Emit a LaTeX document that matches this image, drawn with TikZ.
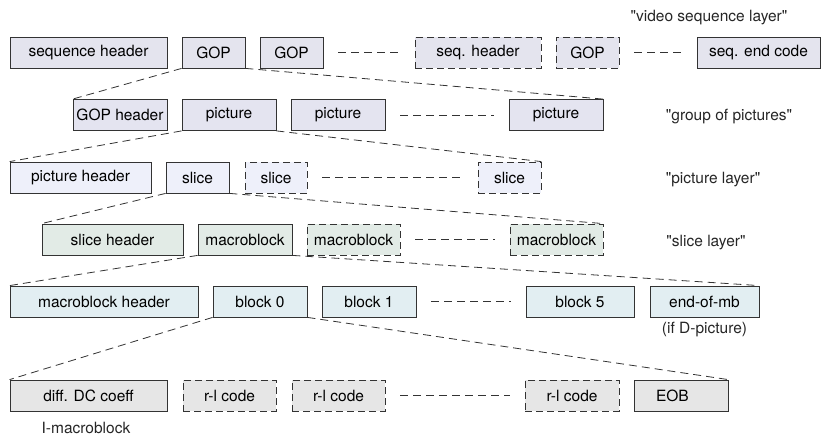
\documentclass[tikz,border=0pt]{standalone}
\usepackage{fontspec}
\setmainfont{TeX Gyre Heros}
\usepackage{tikz}
\usetikzlibrary{positioning}

\definecolor{seqfill}{HTML}{E4E4EE}
\definecolor{gopfill}{HTML}{E4E4F0}
\definecolor{picfill}{HTML}{EEF0FA}
\definecolor{slcfill}{HTML}{E2EBE6}
\definecolor{mbfill}{HTML}{E2EEF2}
\definecolor{blkfill}{HTML}{E6E6E6}
\definecolor{edge}{HTML}{333333}

\begin{document}
\begin{tikzpicture}[
      x=1pt, y=-1pt,
      font=\fontsize{15.5}{17}\selectfont,
      field/.style={
          rectangle,
          draw=edge,
          line width=0.8pt,
          align=center,
          minimum height=31pt,
          inner sep=0pt
        },
      optfield/.style={
          field,
          dash pattern=on 7pt off 4pt
        },
      layer/.style={
          align=center,
          inner sep=0pt,
          text=black!85
        },
      link/.style={
          draw=edge,
          line width=0.8pt,
          dash pattern=on 8pt off 5pt
        },
      gap/.style={
          link,
          shorten <=15pt,
          shorten >=15pt
        }
    ]
    \useasboundingbox (0,0) rectangle (821,438);

    % Video sequence layer
    \node[field, fill=seqfill, minimum width=157pt] (seqhdr) at (88.5,52.5) {sequence header};
    \node[field, fill=seqfill, minimum width=63pt] (gop_a) at (213.5,52.5) {GOP};
    \node[field, fill=seqfill, minimum width=63pt] (gop_b) at (291.5,52.5) {GOP};
    \node[optfield, fill=seqfill, minimum width=126pt] (seqhdr_b) at (478,52.5) {seq. header};
    \node[optfield, fill=seqfill, minimum width=63pt] (gop_c) at (587.5,52.5) {GOP};
    \node[field, fill=seqfill, minimum width=123pt] (seqend) at (758.5,52.5) {seq. end code};
    \node[layer] (lbl_seq) at (709,18) {\textquotedbl video sequence layer\textquotedbl};

    % Group of pictures
    \node[field, fill=gopfill, minimum width=94pt] (gophdr) at (120,115) {GOP header};
    \node[field, fill=gopfill, minimum width=94pt] (pic_a) at (229,115) {picture};
    \node[field, fill=gopfill, minimum width=94pt] (pic_b) at (338,115) {picture};
    \node[field, fill=gopfill, minimum width=94pt] (pic_c) at (556,115) {picture};
    \node[layer] (lbl_gop) at (729,117) {\textquotedbl group of pictures\textquotedbl};

    % Picture layer
    \node[field, fill=picfill, minimum width=141pt] (pichdr) at (80.5,177.5) {picture header};
    \node[field, fill=picfill, minimum width=63pt] (slice_a) at (197.5,177.5) {slice};
    \node[optfield, fill=picfill, minimum width=62pt] (slice_b) at (276,177.5) {slice};
    \node[optfield, fill=picfill, minimum width=63pt] (slice_c) at (509.5,177.5) {slice};
    \node[layer] (lbl_pic) at (713,180) {\textquotedbl picture layer\textquotedbl};

    % Slice layer
    \node[field, fill=slcfill, minimum width=141pt] (slchdr) at (112.5,239.5) {slice header};
    \node[field, fill=slcfill, minimum width=94pt] (mb_a) at (245,239.5) {macroblock};
    \node[optfield, fill=slcfill, minimum width=93pt] (mb_b) at (353.5,239.5) {macroblock};
    \node[optfield, fill=slcfill, minimum width=93pt] (mb_c) at (556.5,239.5) {macroblock};
    \node[layer] (lbl_slc) at (706,243) {\textquotedbl slice layer\textquotedbl};

    % Macroblock layer
    \node[field, fill=mbfill, minimum width=188pt] (mbhdr) at (104,301.5) {macroblock header};
    \node[field, fill=mbfill, minimum width=94pt] (blk_0) at (260,301.5) {block 0};
    \node[field, fill=mbfill, minimum width=94pt] (blk_1) at (369,301.5) {block 1};
    \node[field, fill=mbfill, minimum width=108pt] (blk_5) at (580,301.5) {block 5};
    \node[field, fill=mbfill, minimum width=109pt] (eomb) at (704.5,301.5) {end-of-mb};
    \node[layer, below=5pt of eomb] (lbl_dpic) {(if D-picture)};

    % Block layer
    \node[field, fill=blkfill, minimum width=157pt] (dccoef) at (88.5,395.5) {diff. DC coeff};
    \node[optfield, fill=blkfill, minimum width=93pt] (rl_a) at (229.5,395.5) {r-l code};
    \node[optfield, fill=blkfill, minimum width=93pt] (rl_b) at (338.5,395.5) {r-l code};
    \node[optfield, fill=blkfill, minimum width=94pt] (rl_c) at (572,395.5) {r-l code};
    \node[field, fill=blkfill, minimum width=94pt, text width=50pt, align=left] (eob) at (681,395.5) {EOB};
    \node[layer] (lbl_imb) at (86,428) {I-macroblock};

    % Gaps in each row
    \draw[gap] (gop_b) -- (seqhdr_b);
    \draw[gap] (gop_c) -- (seqend);
    \draw[gap] (pic_b) -- (pic_c);
    \draw[gap] (slice_b) -- (slice_c);
    \draw[gap] (mb_b) -- (mb_c);
    \draw[gap] (blk_1) -- (blk_5);
    \draw[gap] (rl_b) -- (rl_c);

    % Expansion lines
    \draw[link] (gop_a.south west) -- (gophdr.north west);
    \draw[link] (gop_a.south east) -- (pic_c.north east);
    \draw[link] (pic_a.south west) -- (pichdr.north west);
    \draw[link] (pic_a.south east) -- (slice_c.north east);
    \draw[link] (slice_a.south west) -- (slchdr.north west);
    \draw[link] (slice_a.south east) -- (mb_c.north east);
    \draw[link] (mb_a.south west) -- (mbhdr.north west);
    \draw[link] (mb_a.south east) -- (eomb.north east);
    \draw[link] (blk_0.south west) -- (dccoef.north west);
    \draw[link] (blk_0.south east) -- (eob.north east);
  \end{tikzpicture}
\end{document}
